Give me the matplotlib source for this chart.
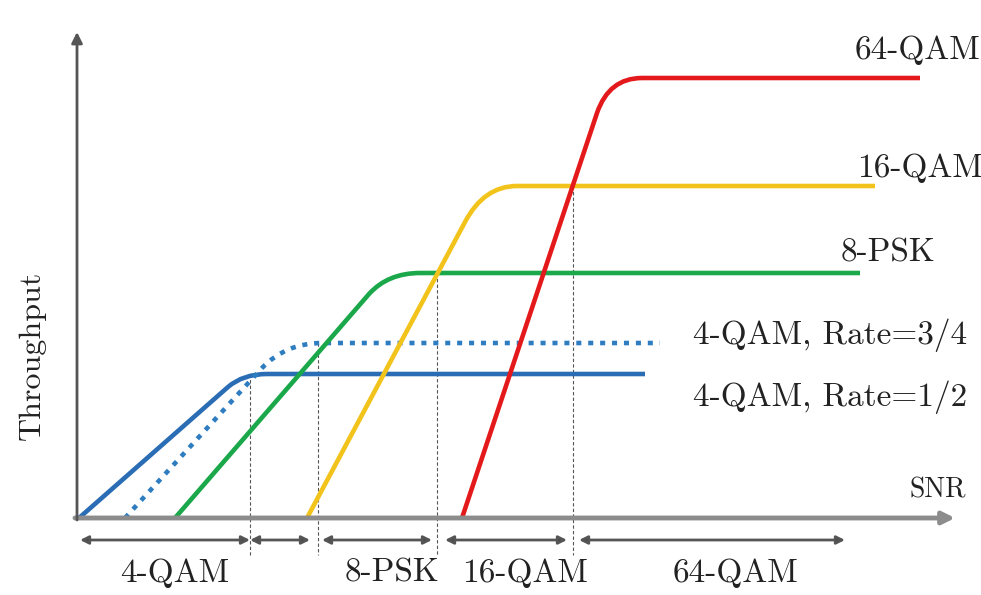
import matplotlib
matplotlib.use("Agg")
import matplotlib.pyplot as plt
from matplotlib.path import Path
from matplotlib.patches import PathPatch

# ---- data (x = SNR units, y = throughput units) ----
# each curve: start, knee_in, corner (bezier control), knee_out, end
qam4_r12 = [(2, 0), (151, 131), (166, 144), (190, 144), (568, 144)]
qam4_r34 = [(48, 0), (185, 150), (209, 175), (245, 175), (583, 175)]
psk8 = [(98, 0), (292, 224), (311, 245), (343, 245), (783, 245)]
qam16 = [(230, 0), (388, 296), (407, 332), (440, 332), (798, 332)]
qam64 = [(385, 0), (520, 405), (532, 440), (565, 440), (843, 440)]

curve_labels = ["64-QAM", "16-QAM", "8-PSK", "4-QAM, Rate=3/4", "4-QAM, Rate=1/2"]
label_pos = [(840, 468), (843, 350), (811, 265), (753, 183), (753, 121)]

boundaries = [173, 241, 360, 496]
boundary_tops = [144, 175, 245, 332]
region_segments = [(3, 173), (173, 233), (245, 355), (368, 490), (502, 768)]
region_labels = ["4-QAM", "8-PSK", "16-QAM", "64-QAM"]
region_label_x = [98, 315, 448, 658]

FONT = "cmr10"
TXT = "#222222"

fig = plt.figure(figsize=(9.81, 5.95), dpi=100)
ax = fig.add_axes([0, 0, 1, 1])
ax.set_xlim(-77, 904)
ax.set_ylim(-77, 518)
ax.axis("off")

codes = [Path.MOVETO, Path.LINETO, Path.CURVE3, Path.CURVE3, Path.LINETO]

def draw(pts, color, ls="-"):
    p = PathPatch(Path(pts, codes), fill=False, edgecolor=color, lw=3.3,
                  linestyle=ls, capstyle="butt", joinstyle="round", zorder=3)
    ax.add_patch(p)

draw(qam4_r12, "#2a6db5")
draw(qam4_r34, "#2e7dc0", ls=(0, (1.1, 1.5)))
draw(psk8, "#1aa84a")
draw(qam16, "#f2c31b")
draw(qam64, "#e3191c")

# vertical dashed boundaries
for bx, bt in zip(boundaries, boundary_tops):
    ax.plot([bx, bx], [bt, -37], color="#555555", lw=0.8, ls=(0, (3, 2)), zorder=2)

# axes arrows
ax.annotate("", xy=(878, 0), xytext=(-2, 0),
            arrowprops=dict(arrowstyle="-|>", color="#8c8c8c", lw=3.5,
                            mutation_scale=18, shrinkA=0, shrinkB=0), zorder=4)
ax.annotate("", xy=(0, 486), xytext=(0, -2),
            arrowprops=dict(arrowstyle="-|>", color="#555555", lw=2,
                            mutation_scale=16, shrinkA=0, shrinkB=0), zorder=4)

# region arrows
for a, b in region_segments:
    ax.annotate("", xy=(b, -22), xytext=(a, -22),
                arrowprops=dict(arrowstyle="<|-|>", color="#8c8c8c", lw=2,
                                mutation_scale=12, shrinkA=0, shrinkB=0,
                                ec="#555555", fc="#444444"), zorder=4)

for lab, x in zip(region_labels, region_label_x):
    ax.text(x, -55, lab, fontsize=24, family=FONT, color=TXT, ha="center", va="center")

for lab, (x, y) in zip(curve_labels, label_pos):
    ax.text(x, y, lab, fontsize=24, family=FONT, color=TXT, ha="center", va="center")

ax.text(861, 28, "SNR", fontsize=20, family=FONT, color=TXT, ha="center", va="center")
ax.text(-45, 163, "Throughput", fontsize=23, family=FONT, color=TXT,
        ha="center", va="center", rotation=90)

fig.savefig("out.png", dpi=100)
